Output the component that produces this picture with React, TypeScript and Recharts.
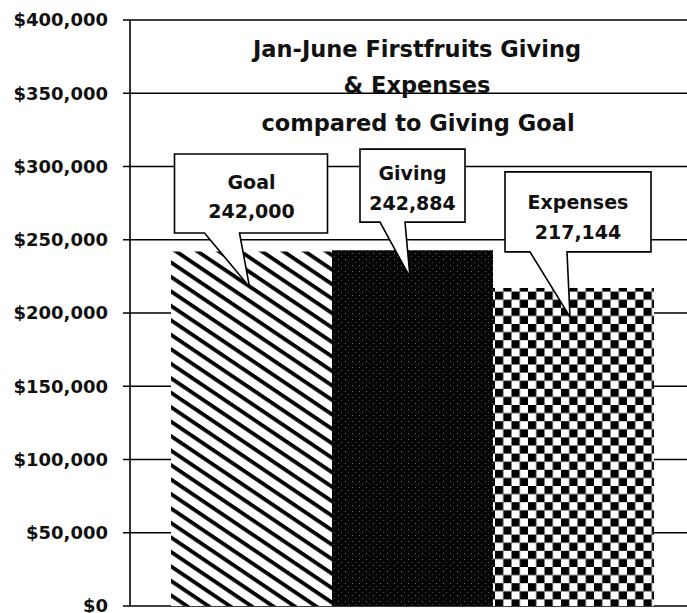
import React from "react";
import { BarChart, Bar, XAxis, YAxis, CartesianGrid, LabelList, Customized } from "recharts";

// ---- data ----
const categories = ["Jan-June"];
const seriesNames = ["Goal", "Giving", "Expenses"];
const goalValues = [242000];
const givingValues = [242884];
const expenseValues = [217144];
const yTicks = [0, 50000, 100000, 150000, 200000, 250000, 300000, 350000, 400000];
const titleLines = ["Jan-June Firstfruits Giving", "& Expenses", "compared to Giving Goal"];

const data = categories.map((c, i) => ({
  name: c,
  goal: goalValues[i],
  giving: givingValues[i],
  expenses: expenseValues[i],
}));

const FONT = "'DejaVu Sans', sans-serif";

// callout layout relative to bar center (cx) and bar top (ty)
type CalloutCfg = {
  L: number; R: number; T: number; B: number;
  bl: number; br: number; tx: number; ty: number;
  textX: number; line1: number; line2: number;
};
const CALLOUTS: Record<string, CalloutCfg> = {
  Goal: { L: -77, R: 76, T: -97.5, B: -18.5, bl: -47, br: -12, tx: -2, ty: 35.5, textX: 0, line1: -69.5, line2: -40.5 },
  Giving: { L: -52.5, R: 52.5, T: -101, B: -28, bl: -32.5, br: -7.5, tx: -2.5, ty: 27, textX: 0, line1: -77, line2: -47 },
  Expenses: { L: -68.5, R: 77.5, T: -116, B: -36, bl: -43.5, br: -6.5, tx: -3.5, ty: 29, textX: 4.5, line1: -86, line2: -56 },
};

const makeCallout = (name: string) => (p: any) => {
  const vb = p.viewBox || {};
  const x = Number(p.x ?? vb.x);
  const y = Number(p.y ?? vb.y);
  const w = Number(p.width ?? vb.width);
  const h = Number(p.height ?? vb.height);
  if (!isFinite(x) || !isFinite(y) || !isFinite(w)) return null;
  const top = h < 0 ? y + h : y;
  const cx = x + w / 2;
  const c = CALLOUTS[name];
  const d = [
    `M${cx + c.L},${top + c.T}`,
    `H${cx + c.R}`,
    `V${top + c.B}`,
    `H${cx + c.br}`,
    `L${cx + c.tx},${top + c.ty}`,
    `L${cx + c.bl},${top + c.B}`,
    `H${cx + c.L}`,
    "Z",
  ].join(" ");
  const val = Number(p.value).toLocaleString("en-US");
  return (
    <g>
      <path d={d} fill="#ffffff" stroke="#000" strokeWidth={1.6} strokeLinejoin="miter" />
      <text x={cx + c.textX} y={top + c.line1} textAnchor="middle" dominantBaseline="central"
        fontFamily={FONT} fontWeight="bold" fontSize={19} fill="#111">{name}</text>
      <text x={cx + c.textX} y={top + c.line2} textAnchor="middle" dominantBaseline="central"
        fontFamily={FONT} fontWeight="bold" fontSize={19} fill="#111">{val}</text>
    </g>
  );
};

const Title = () => (
  <text textAnchor="middle" fontFamily={FONT} fontWeight="bold" fontSize={22.5} fill="#111">
    <tspan x={417} y={57}>{titleLines[0]}</tspan>
    <tspan x={417} y={93}>{titleLines[1]}</tspan>
    <tspan x={418} y={131}>{titleLines[2]}</tspan>
  </text>
);

const fmt = (v: number) => "$" + v.toLocaleString("en-US");

export default function App() {
  return (
    <div style={{ position: "absolute", left: 0, top: 0, width: 687, height: 613, overflow: "hidden", background: "#fff" }}>
      <BarChart
        width={696}
        height={613}
        data={data}
        margin={{ top: 20, right: 0, bottom: 7, left: 0 }}
        barCategoryGap={41}
        barGap={0}
      >
        <defs>
          <pattern id="hatch" patternUnits="userSpaceOnUse" width={12} height={12} patternTransform="rotate(34)">
            <rect x={0} y={0} width={12} height={12} fill="#fff" />
            <rect x={0} y={0} width={12} height={3.8} fill="#000" />
          </pattern>
          <pattern id="dark" patternUnits="userSpaceOnUse" width={7} height={6}>
            <rect x={0} y={0} width={7} height={6} fill="#050505" />
            <rect x={2} y={1} width={1} height={1} fill="#6a6a6a" />
            <rect x={5} y={4} width={1} height={1} fill="#4a4a4a" />
          </pattern>
          <pattern id="checker" patternUnits="userSpaceOnUse" width={16.5} height={16.2}>
            <rect x={0} y={0} width={16.5} height={16.2} fill="#fff" />
            <rect x={0} y={0} width={8.25} height={8.1} fill="#000" />
            <rect x={8.25} y={8.1} width={8.25} height={8.1} fill="#000" />
          </pattern>
        </defs>
        <CartesianGrid horizontal vertical={false} stroke="#000" strokeWidth={1.5} strokeDasharray="" />
        <XAxis dataKey="name" hide />
        <YAxis
          width={130}
          domain={[0, 400000]}
          ticks={yTicks}
          interval={0}
          tickFormatter={fmt}
          axisLine={{ stroke: "#000", strokeWidth: 1.6 }}
          tickLine={{ stroke: "#000", strokeWidth: 1.5 }}
          tickSize={7}
          tickMargin={15}
          tick={{ fontFamily: FONT, fontWeight: "bold", fontSize: 18, fill: "#111" }}
        />
        <Bar dataKey="goal" name={seriesNames[0]} fill="url(#hatch)" isAnimationActive={false}>
          <LabelList dataKey="goal" content={makeCallout(seriesNames[0])} />
        </Bar>
        <Bar dataKey="giving" name={seriesNames[1]} fill="url(#dark)" isAnimationActive={false}>
          <LabelList dataKey="giving" content={makeCallout(seriesNames[1])} />
        </Bar>
        <Bar dataKey="expenses" name={seriesNames[2]} fill="url(#checker)" isAnimationActive={false}>
          <LabelList dataKey="expenses" content={makeCallout(seriesNames[2])} />
        </Bar>
        <Customized component={Title} />
      </BarChart>
    </div>
  );
}
